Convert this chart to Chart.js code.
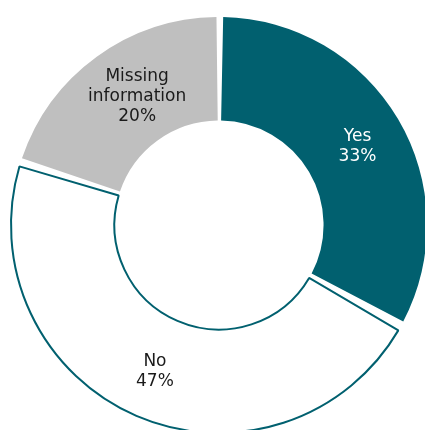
<!DOCTYPE html>
<html>
<head>
<meta charset="utf-8">
<script src="https://cdn.jsdelivr.net/npm/chart.js@4"></script>
<style>
  html, body { margin: 0; padding: 0; background: #fff; overflow: hidden; width: 425px; height: 430px; }
  #wrap { position: relative; width: 425px; height: 430px; overflow: hidden; }
  #pie { position: absolute; left: -1px; top: 5px; }
</style>
</head>
<body>
<div id="wrap"><canvas id="pie" width="440" height="440"></canvas></div>
<script>
// Share of answers (percent), clockwise from 12 o'clock
const categories = ['Yes', 'No', 'Missing information'];
const shares = [33, 47, 20];
const labelLines = [['Yes'], ['No'], ['Missing', 'information']];

const TEAL = '#01606f';
const GREY = '#bfbfbf';

// small label nudges (px) relative to the slice centroid
const labelNudge = [[4, 1], [-2, 3], [10, -2]];

// ── Labels drawn inside each slice ──────────────────────────
const sliceLabels = {
  id: 'sliceLabels',
  afterDatasetsDraw(chart) {
    const ctx = chart.ctx;
    const meta = chart.getDatasetMeta(0);
    ctx.save();
    ctx.font = '17px "DejaVu Sans", Verdana, sans-serif';
    ctx.textAlign = 'center';
    ctx.textBaseline = 'middle';
    meta.data.forEach((arc, i) => {
      const pos = arc.tooltipPosition();
      const lines = labelLines[i].concat([shares[i] + '%']);
      const lh = 20;
      const cx = pos.x + labelNudge[i][0];
      const top = pos.y + labelNudge[i][1] - (lines.length - 1) * lh / 2;
      ctx.fillStyle = i === 0 ? '#ffffff' : '#1a1a1a';
      lines.forEach((t, k) => ctx.fillText(t, cx, top + k * lh));
    });
    ctx.restore();
  }
};

new Chart(document.getElementById('pie'), {
  type: 'doughnut',
  data: {
    labels: categories,
    datasets: [{
      data: shares,
      backgroundColor: [TEAL, '#ffffff', GREY],
      borderColor: [TEAL, TEAL, GREY],
      borderWidth: [0, 2, 0],
      spacing: 6
    }]
  },
  options: {
    responsive: false,
    animation: false,
    radius: 205,
    cutout: 107,
    layout: { padding: 0 },
    plugins: {
      legend: { display: false },
      tooltip: { enabled: false }
    }
  },
  plugins: [sliceLabels]
});
</script>
</body>
</html>
